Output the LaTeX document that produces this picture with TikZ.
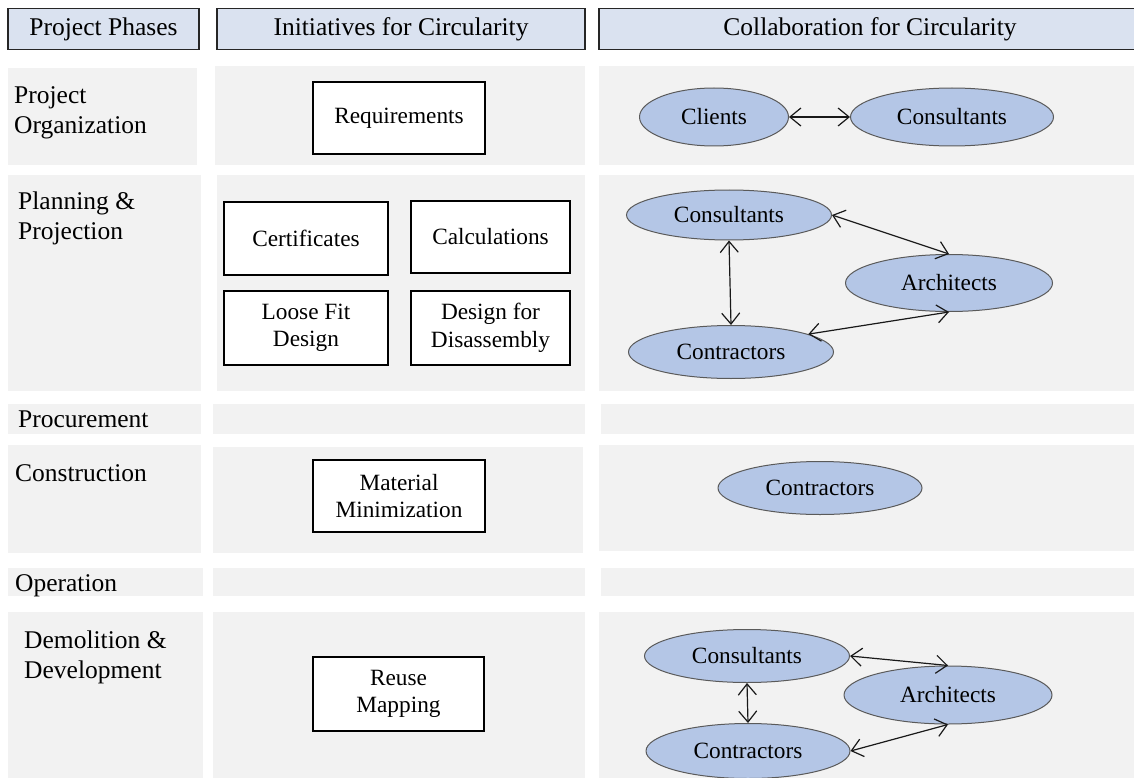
\documentclass[tikz,border=0pt]{standalone}
\usepackage{fontspec}
\setmainfont{Liberation Serif}
\usetikzlibrary{shapes.geometric,arrows.meta}
\definecolor{hdrfill}{HTML}{DAE2F0}
\definecolor{bandgray}{HTML}{F2F2F2}
\definecolor{ellfill}{HTML}{B4C6E6}
\definecolor{ellline}{HTML}{5A5A5A}
\tikzset{
  hdr/.style={draw=black!85, line width=1.5pt, fill=hdrfill, inner sep=0pt,
    minimum height=41pt, font=\fontsize{25.5}{30}\selectfont},
  phase/.style={inner sep=0pt, align=left, font=\fontsize{25.5}{30}\selectfont},
  initbox/.style={draw=black, line width=1.2pt, fill=white, inner sep=0pt,
    align=center, font=\fontsize{23.3}{27.5}\selectfont},
  actor/.style={ellipse, draw=ellline, line width=1pt, fill=ellfill, inner sep=0pt,
    font=\fontsize{23.3}{27.5}\selectfont},
  band/.style={fill=bandgray},
  link/.style={{Straight Barb[length=11pt,width=18pt]}-{Straight Barb[length=11pt,width=18pt]},
    line width=1.2pt, draw=black!90}
}
\begin{document}
\begin{tikzpicture}[x=1pt,y=-1pt]
\useasboundingbox (0,0) rectangle (1134,778);
\clip (0,0) rectangle (1134,778);
\fill[white] (0,0) rectangle (1134,778);
% bands
\fill[band] (8,68) rectangle (197,165);
\fill[band] (215,66) rectangle (585,165);
\fill[band] (599,66) rectangle (1140,165);
\fill[band] (8,175) rectangle (201,391);
\fill[band] (217,175) rectangle (585,391);
\fill[band] (599,175) rectangle (1140,391);
\fill[band] (8,404) rectangle (201,434);
\fill[band] (213,404) rectangle (585,434);
\fill[band] (601,404) rectangle (1140,434);
\fill[band] (8,445) rectangle (201,553);
\fill[band] (213,447) rectangle (583,553);
\fill[band] (599,445) rectangle (1140,551);
\fill[band] (8,568) rectangle (203,596);
\fill[band] (213,568) rectangle (585,596);
\fill[band] (601,568) rectangle (1140,596);
\fill[band] (8,612) rectangle (203,790);
\fill[band] (213,612) rectangle (585,790);
\fill[band] (599,612) rectangle (1140,790);
% headers
\node[hdr, minimum width=191pt] (h1) at (103.5,29) {Project Phases};
\node[hdr, minimum width=368pt] (h2) at (401,29) {Initiatives for Circularity};
\node[hdr, minimum width=542pt] (h3) at (870,29) {Collaboration for Circularity};
% phases (base anchor = baseline of last line)
\node[phase, anchor=base west] (p1) at (14,134) {Project\\Organization};
\node[phase, anchor=base west] (p2) at (18,239) {Planning \&\\Projection};
\node[phase, anchor=base west] (p3) at (18,427) {Procurement};
\node[phase, anchor=base west] (p4) at (15,481) {Construction};
\node[phase, anchor=base west] (p5) at (15,591) {Operation};
\node[phase, anchor=base west] (p6) at (24,678) {Demolition \&\\Development};
% initiatives
\node[initbox, minimum width=172pt, minimum height=72pt] (req) at (399,118) {Requirements};
\node[initbox, minimum width=164pt, minimum height=73pt] (cert) at (306,238.5) {Certificates};
\node[initbox, minimum width=159pt, minimum height=72pt] (calc) at (490.5,237) {Calculations};
\node[initbox, minimum width=164pt, minimum height=74pt] (loose) at (306,328) {Loose Fit\\Design};
\node[initbox, minimum width=159pt, minimum height=74pt] (dfd) at (490.5,328) {Design for\\Disassembly};
\node[initbox, minimum width=172pt, minimum height=72pt] (mat) at (399,496) {Material\\Minimization};
\node[initbox, minimum width=171pt, minimum height=74pt] (reuse) at (398.5,694) {Reuse\\Mapping};
% collaboration row 1
\node[actor, minimum width=149pt, minimum height=58pt] (cli) at (714,117) {Clients};
\node[actor, minimum width=203pt, minimum height=58pt] (con1) at (952,117) {Consultants};
\draw[link] (cli.east) -- (con1.west);
% row 2
\node[actor, minimum width=205pt, minimum height=50pt] (con2) at (729,215) {Consultants};
\node[actor, minimum width=207pt, minimum height=57pt] (arc2) at (949,283) {Architects};
\node[actor, minimum width=205pt, minimum height=53pt] (ctr2) at (731,352) {Contractors};
\draw[link] (con2.east) -- (arc2.north);
\draw[link] (con2.south) -- (ctr2.north);
\draw[link] (ctr2.13) -- (arc2.south);
% row 4
\node[actor, minimum width=204pt, minimum height=53pt] (ctr4) at (820,488) {Contractors};
% row 6
\node[actor, minimum width=205pt, minimum height=53pt] (con6) at (747,656) {Consultants};
\node[actor, minimum width=208pt, minimum height=58pt] (arc6) at (948,695) {Architects};
\node[actor, minimum width=204pt, minimum height=55pt] (ctr6) at (748,751) {Contractors};
\draw[link] (con6.east) -- (arc6.north);
\draw[link] (con6.south) -- (ctr6.north);
\draw[link] (ctr6.east) -- (arc6.south);
\end{tikzpicture}
\end{document}
